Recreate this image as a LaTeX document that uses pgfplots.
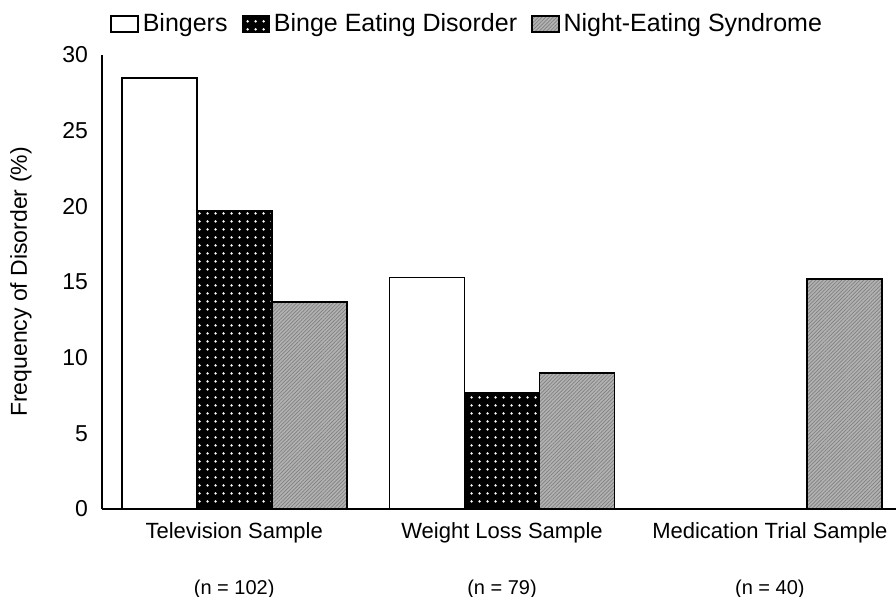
\documentclass[border=0pt]{standalone}
\usepackage{fontspec}
\setmainfont{Liberation Sans}
\usepackage{pgfplots}
\pgfplotsset{compat=1.18}
\usetikzlibrary{patterns.meta}
\begin{document}
\begin{tikzpicture}
\begin{axis}[
  scale only axis,
  width=397pt, height=227pt,
  xmin=-0.4935, xmax=2.471,
  ymin=0, ymax=30,
  axis x line*=bottom, axis y line*=left,
  axis line style={line width=0.9pt},
  ytick={0,5,...,30},
  xtick={0,1,2},
  xticklabels={{Television Sample\\[15pt]{\fontsize{10}{12}\selectfont (n = 102)}},
               {Weight Loss Sample\\[15pt]{\fontsize{10}{12}\selectfont (n = 79)}},
               {Medication Trial Sample\\[15pt]{\fontsize{10}{12}\selectfont (n = 40)}}},
  xticklabel style={align=center, anchor=north, yshift=-3pt, font=\fontsize{11}{13}\selectfont},
  yticklabel style={font=\fontsize{11.5}{12}\selectfont, xshift=-3.5pt},
  /pgf/number format/assume math mode=true,
  major tick length=0pt,
  ylabel={Frequency of Disorder (\%)},
  ylabel style={font=\fontsize{11.5}{13}\selectfont, at={(axis description cs:0,0.5)}, anchor=center, yshift=40.5pt},
  ybar, bar width=0.28,
  legend columns=-1,
  legend style={at={(axis description cs:0,1)}, anchor=west, xshift=4pt, yshift=15.5pt,
    draw=none, fill=none, inner sep=0pt, font=\fontsize{12.5}{14}\selectfont,
    /tikz/every even column/.append style={column sep=5pt},
    nodes={inner xsep=2pt}},
  legend image code/.code={\draw[#1, line width=0.7pt] (0pt,-4pt) rectangle (13.5pt,4pt);},
]
\addplot[draw=black, line width=0.9pt, fill=white, bar shift=-0.28] coordinates {(0,28.5) (1,15.3) (2,0)};
\addplot[draw=black, line width=0.9pt, fill=black, bar shift=0,
  postaction={pattern={Dots[distance=4pt, radius=0.75pt]}, pattern color=white}] coordinates {(0,19.7) (1,7.7) (2,0)};
\addplot[draw=black, line width=0.9pt, fill=black!30, bar shift=0.28,
  postaction={pattern={Lines[angle=45, distance=1.3pt, line width=0.35pt]}, pattern color=black!50}] coordinates {(0,13.7) (1,9.0) (2,15.2)};
\legend{Bingers, Binge Eating Disorder, Night-Eating Syndrome}
\coordinate (O) at (rel axis cs:0,0);
\end{axis}
\pgfresetboundingbox
\path (O) ++(-51pt,-43.5pt) rectangle ++(448pt,298pt);
\end{tikzpicture}
\end{document}
